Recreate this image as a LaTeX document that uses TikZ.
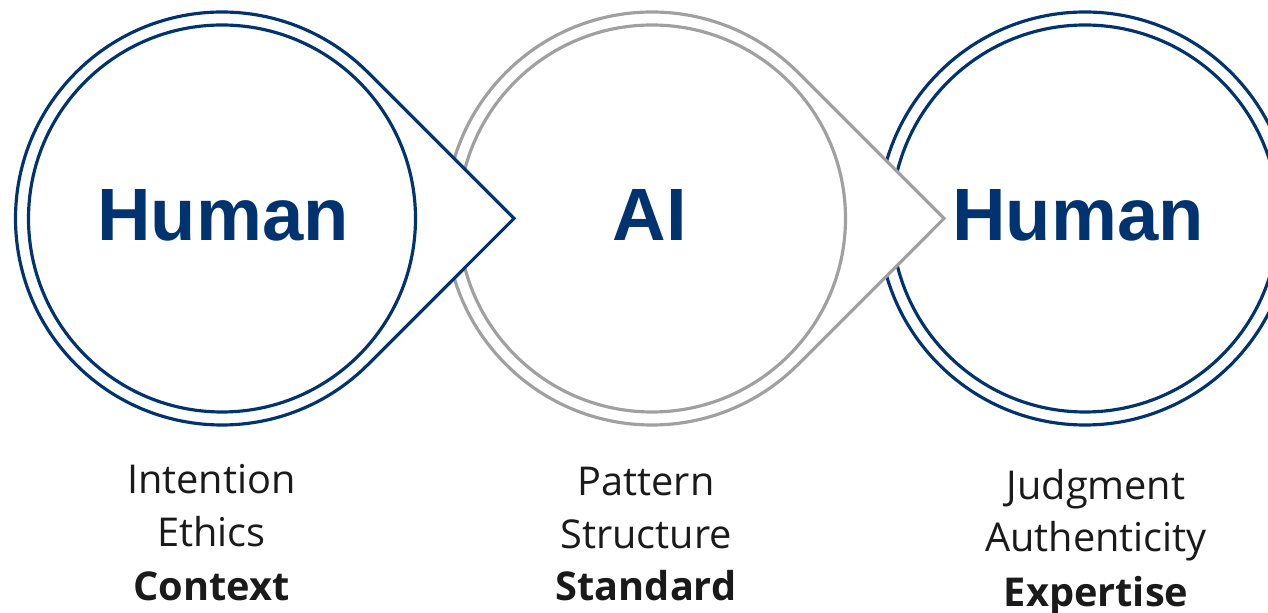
\documentclass[tikz,border=0pt]{standalone}
\usepackage{fontspec}
\setmainfont{Open Sans}
\newfontfamily\titlefont{Liberation Sans}
\definecolor{deepnavy}{HTML}{003370}
\definecolor{ringgray}{HTML}{A0A0A0}
\definecolor{inkgray}{HTML}{1A1A1A}
\tikzset{
  outerring/.style={line width=0.9pt,draw=#1,fill=white},
  innerring/.style={line width=0.9pt,draw=#1},
  bigword/.style={text=deepnavy,font=\titlefont\bfseries\fontsize{21.1}{24}\selectfont,inner sep=0pt},
  smallword/.style={text=inkgray,font=\fontsize{11.3}{13}\selectfont,inner sep=0pt,anchor=base},
  boldword/.style={smallword,font=\bfseries\fontsize{11.3}{13}\selectfont}
}
\begin{document}
\begin{tikzpicture}
	\useasboundingbox (0,0) rectangle (12.68,-6.13);
	\clip (0,0) rectangle (12.68,-6.13);
	\coordinate (c1) at (2.22,-2.185);
	\coordinate (c2) at (6.52,-2.185);
	\coordinate (c3) at (10.85,-2.185);
	% last ring, cut by the right edge
	\draw[outerring=deepnavy] (c3) circle (2.065);
	\draw[innerring=deepnavy] (c3) circle (1.935);
	% middle drop
	\draw[outerring=ringgray] ([shift={(2.92,0)}]c2) -- ([shift={(45:2.065)}]c2)
		arc[start angle=45,end angle=315,radius=2.065] -- cycle;
	\draw[innerring=ringgray] (c2) circle (1.935);
	% first drop
	\draw[outerring=deepnavy] ([shift={(2.92,0)}]c1) -- ([shift={(45:2.065)}]c1)
		arc[start angle=45,end angle=315,radius=2.065] -- cycle;
	\draw[innerring=deepnavy] (c1) circle (1.935);
	% words in the rings
	\node[bigword] (human1) at (2.23,-2.154) {Human};
	\node[bigword] (ai) at (6.50,-2.154) {AI};
	\node[bigword] (human2) at (10.78,-2.154) {Human};
	% words below
	\node[smallword] (intention) at (2.115,-4.94) {Intention};
	\node[smallword] (ethics) at (2.115,-5.465) {Ethics};
	\node[boldword] (context) at (2.115,-6.01) {Context};
	\node[smallword] (pattern) at (6.46,-4.96) {Pattern};
	\node[smallword] (structure) at (6.46,-5.485) {Structure};
	\node[boldword] (standard) at (6.46,-6.01) {Standard};
	\node[smallword] (judgment) at (10.96,-5.00) {Judgment};
	\node[smallword] (authenticity) at (10.96,-5.52) {Authenticity};
	\node[boldword] (expertise) at (10.96,-6.065) {Expertise};
\end{tikzpicture}
\end{document}
